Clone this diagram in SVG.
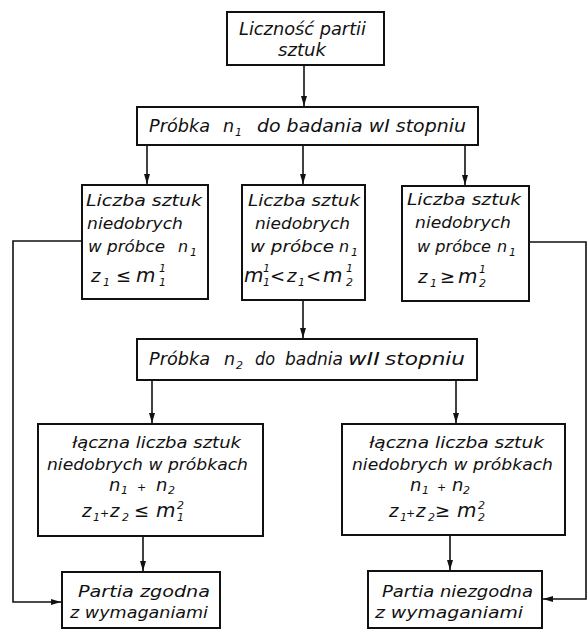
<svg xmlns="http://www.w3.org/2000/svg" width="588" height="632" viewBox="0 0 588 632">
<style>
.box{fill:#fff;stroke:#111;stroke-width:2}
.ln{fill:none;stroke:#111;stroke-width:1.6}
.t{font-family:"DejaVu Sans",sans-serif;font-style:italic;font-size:16px;fill:#111}
.big{font-size:17.5px}
.f{font-size:18px}
.m{font-size:20px}
.p{font-size:11px}
.s{font-size:11px}
</style>
<defs>
<marker id="ah" viewBox="0 0 10 6" refX="10" refY="3" markerWidth="10" markerHeight="6" markerUnits="userSpaceOnUse" orient="auto">
<path d="M0,0 L10,3 L0,6 Z" fill="#111"/>
</marker>
</defs>
<rect width="588" height="632" fill="#fff"/>
<g id="connectors">
<path class="ln" d="M304,65 V106" marker-end="url(#ah)"/>
<path class="ln" d="M147,145 V184" marker-end="url(#ah)"/>
<path class="ln" d="M303,145 V184" marker-end="url(#ah)"/>
<path class="ln" d="M465,145 V185" marker-end="url(#ah)"/>
<path class="ln" d="M82,241 H13 V602 H61" marker-end="url(#ah)"/>
<path class="ln" d="M529,242 H586 V599 H543" marker-end="url(#ah)"/>
<path class="ln" d="M303,300 V338" marker-end="url(#ah)"/>
<path class="ln" d="M152,380 V423" marker-end="url(#ah)"/>
<path class="ln" d="M456,380 V423" marker-end="url(#ah)"/>
<path class="ln" d="M143,536 V571" marker-end="url(#ah)"/>
<path class="ln" d="M450,535 V570" marker-end="url(#ah)"/>
</g>
<g id="n-liczebnosc">
<rect class="box" x="227" y="12" width="157" height="53"/>
<text class="t big" x="239" y="35" textLength="127" lengthAdjust="spacingAndGlyphs">Liczność partii</text>
<text class="t big" x="278" y="56" textLength="48" lengthAdjust="spacingAndGlyphs">sztuk</text>
</g>
<g id="n-probka1">
<rect class="box" x="137" y="107" width="341" height="38"/>
<text class="t big" y="132"><tspan x="149" textLength="61" lengthAdjust="spacingAndGlyphs">Próbka</tspan><tspan x="223">n</tspan><tspan class="s" x="235" dy="4">1</tspan><tspan x="257" dy="-4" textLength="209" lengthAdjust="spacingAndGlyphs">do badania wI stopniu</tspan></text>
</g>
<g id="n-lewy">
<rect class="box" x="82" y="185" width="126" height="114"/>
<text class="t" x="86" y="206" textLength="116" lengthAdjust="spacingAndGlyphs">Liczba sztuk</text>
<text class="t" x="87" y="229" textLength="96" lengthAdjust="spacingAndGlyphs">niedobrych</text>
<text class="t" y="252"><tspan x="88" textLength="77" lengthAdjust="spacingAndGlyphs">w próbce</tspan><tspan x="178">n</tspan><tspan class="s" x="190" dy="4">1</tspan></text>
<text class="t f" y="282"><tspan x="91">z</tspan><tspan class="s" x="103" dy="4">1</tspan><tspan x="116" dy="-4">≤</tspan><tspan class="m" x="136">m</tspan><tspan class="s" x="159" dy="4">1</tspan><tspan class="s" x="159" dy="-14">1</tspan></text>
</g>
<g id="n-srodek">
<rect class="box" x="242" y="185" width="123" height="115"/>
<text class="t" x="248" y="206" textLength="112" lengthAdjust="spacingAndGlyphs">Liczba sztuk</text>
<text class="t" x="255" y="229" textLength="95" lengthAdjust="spacingAndGlyphs">niedobrych</text>
<text class="t" y="252"><tspan x="250" textLength="84" lengthAdjust="spacingAndGlyphs">w  próbce</tspan><tspan x="339">n</tspan><tspan class="s" x="351" dy="4">1</tspan></text>
<text class="t f" y="282"><tspan class="m" x="244">m</tspan><tspan class="s" x="263" dy="4">1</tspan><tspan class="s" x="263" dy="-14">1</tspan><tspan x="270" dy="10">&lt;</tspan><tspan x="287">z</tspan><tspan class="s" x="298" dy="4">1</tspan><tspan x="306" dy="-4">&lt;</tspan><tspan class="m" x="323">m</tspan><tspan class="s" x="346" dy="4">2</tspan><tspan class="s" x="346" dy="-14">1</tspan></text>
</g>
<g id="n-prawy">
<rect class="box" x="402" y="186" width="127" height="115"/>
<text class="t" x="407" y="205" textLength="114" lengthAdjust="spacingAndGlyphs">Liczba sztuk</text>
<text class="t" x="415" y="228" textLength="96" lengthAdjust="spacingAndGlyphs">niedobrych</text>
<text class="t" y="252"><tspan x="417" textLength="74" lengthAdjust="spacingAndGlyphs">w próbce</tspan><tspan x="497">n</tspan><tspan class="s" x="509" dy="4">1</tspan></text>
<text class="t f" y="283"><tspan x="418">z</tspan><tspan class="s" x="430" dy="4">1</tspan><tspan x="440" dy="-4">≥</tspan><tspan class="m" x="458">m</tspan><tspan class="s" x="479" dy="4">2</tspan><tspan class="s" x="479" dy="-14">1</tspan></text>
</g>
<g id="n-probka2">
<rect class="box" x="137" y="339" width="340" height="41"/>
<text class="t big" y="365"><tspan x="149" textLength="61" lengthAdjust="spacingAndGlyphs">Próbka</tspan><tspan x="224">n</tspan><tspan class="s" x="236" dy="4">2</tspan><tspan x="255" dy="-4" textLength="20" lengthAdjust="spacingAndGlyphs">do</tspan><tspan x="285" textLength="58" lengthAdjust="spacingAndGlyphs">badnia</tspan><tspan x="348" textLength="32" lengthAdjust="spacingAndGlyphs">wII</tspan><tspan x="385" textLength="80" lengthAdjust="spacingAndGlyphs">stopniu</tspan></text>
</g>
<g id="n-laczna-zgodna">
<rect class="box" x="38" y="424" width="225" height="112"/>
<text class="t" x="72" y="448" textLength="169" lengthAdjust="spacingAndGlyphs">łączna liczba sztuk</text>
<text class="t" x="47" y="470" textLength="201" lengthAdjust="spacingAndGlyphs">niedobrych w próbkach</text>
<text class="t f" y="491"><tspan x="109">n</tspan><tspan class="s" x="121" dy="3">1</tspan><tspan class="p" x="137" dy="-3">+</tspan><tspan x="156">n</tspan><tspan class="s" x="168" dy="3">2</tspan></text>
<text class="t f" y="517"><tspan x="82">z</tspan><tspan class="s" x="93" dy="4">1</tspan><tspan class="p" x="100" dy="-4">+</tspan><tspan x="110">z</tspan><tspan class="s" x="122" dy="4">2</tspan><tspan x="134" dy="-4">≤</tspan><tspan class="m" x="156">m</tspan><tspan class="s" x="177" dy="4">1</tspan><tspan class="s" x="177" dy="-12">2</tspan></text>
</g>
<g id="n-laczna-niezgodna">
<rect class="box" x="342" y="424" width="223" height="111"/>
<text class="t" x="369" y="448" textLength="175" lengthAdjust="spacingAndGlyphs">łączna liczba sztuk</text>
<text class="t" x="352" y="470" textLength="201" lengthAdjust="spacingAndGlyphs">niedobrych w próbkach</text>
<text class="t f" y="491"><tspan x="410">n</tspan><tspan class="s" x="422" dy="3">1</tspan><tspan class="p" x="437" dy="-3">+</tspan><tspan x="452">n</tspan><tspan class="s" x="463" dy="3">2</tspan></text>
<text class="t f" y="517"><tspan x="389">z</tspan><tspan class="s" x="400" dy="4">1</tspan><tspan class="p" x="406" dy="-4">+</tspan><tspan x="416">z</tspan><tspan class="s" x="428" dy="4">2</tspan><tspan x="435" dy="-4">≥</tspan><tspan class="m" x="457">m</tspan><tspan class="s" x="478" dy="4">2</tspan><tspan class="s" x="478" dy="-12">2</tspan></text>
</g>
<g id="n-zgodna">
<rect class="box" x="62" y="572" width="158" height="56"/>
<text class="t" x="78" y="597" textLength="132" lengthAdjust="spacingAndGlyphs">Partia zgodna</text>
<text class="t" x="70" y="618" textLength="138" lengthAdjust="spacingAndGlyphs">z wymaganiami</text>
</g>
<g id="n-niezgodna">
<rect class="box" x="368" y="571" width="174" height="57"/>
<text class="t" x="382" y="597" textLength="151" lengthAdjust="spacingAndGlyphs">Partia niezgodna</text>
<text class="t" x="375" y="618" textLength="148" lengthAdjust="spacingAndGlyphs">z wymaganiami</text>
</g>
</svg>
